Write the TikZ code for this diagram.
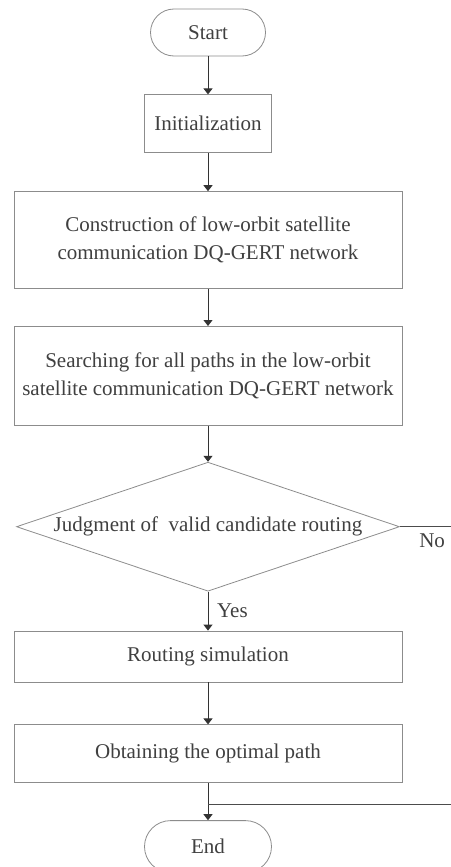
\documentclass[tikz,border=0pt]{standalone}
\usepackage{fontspec}
\setmainfont{Liberation Serif}
\usetikzlibrary{arrows.meta,positioning,shapes.geometric}

\begin{document}
\begin{tikzpicture}[
  every node/.style={font=\fontsize{10.5}{13.8}\selectfont, text=black!75},
  proc/.style={draw=black!45, align=center, fill=white, inner sep=0pt,
               minimum width=194pt},
  term/.style={draw=black!45, align=center, fill=white, inner sep=0pt},
  decision/.style={draw=black!45, diamond, aspect=2.97, align=center, inner sep=0pt,
                   minimum width=191.5pt, minimum height=64.5pt},
  line/.style={-{Triangle[length=3pt,width=4.5pt]}, draw=black!80, line width=.5pt}
]
\useasboundingbox (0,0) rectangle (225pt,-433.5pt);

% ===== Spine =====
\node[term, minimum width=57.5pt, minimum height=23.5pt, rounded corners=11.75pt]
  (start) at (104pt,-16.25pt) {Start};
\node[proc, minimum width=63.5pt, minimum height=29pt, below=19pt of start] (init) {Initialization};
\node[proc, minimum height=48.5pt, below=19pt of init] (build)
  {Construction of low-orbit satellite\\communication DQ-GERT network};
\node[proc, minimum height=49.5pt, below=18.5pt of build] (search)
  {Searching for all paths in the low-orbit\\satellite communication DQ-GERT network};
\node[decision, below=18pt of search] (judge) {Judgment of~ valid candidate routing};
\node[proc, minimum height=25.5pt, below=19.5pt of judge] (sim) {Routing simulation};
\node[proc, minimum height=29pt, below=21pt of sim] (optimal) {Obtaining the optimal path};
\node[term, minimum width=63.5pt, minimum height=26pt, rounded corners=13pt,
      below=18.5pt of optimal] (end) {End};
\coordinate[below=10.5pt of optimal] (merge);

% ===== Edges =====
\draw[line] (start) -- (init);
\draw[line] (init) -- (build);
\draw[line] (build) -- (search);
\draw[line] (search) -- (judge);
\draw[line] (judge) -- node[right, xshift=1pt]{Yes} (sim);
\draw[line] (sim) -- (optimal);
\draw[line] (optimal) -- (end);

% "No" branch leaves the frame on the right and comes back above End
\draw[draw=black!70, line width=.5pt] (judge.east) -- node[below, pos=.46]{No} ++(35pt,0) |- (merge);
\end{tikzpicture}
\end{document}
